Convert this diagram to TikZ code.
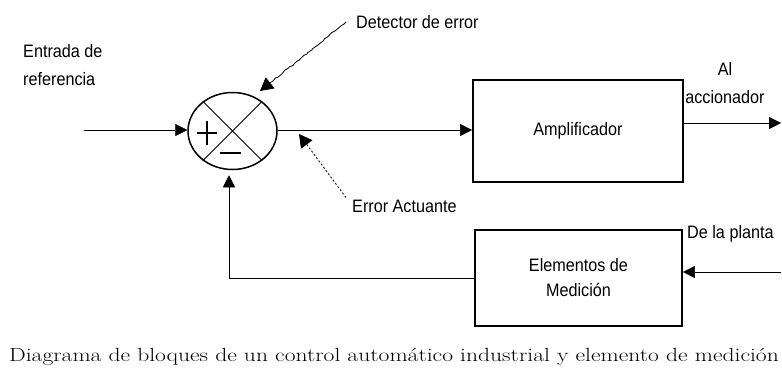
\documentclass[tikz,border=0pt]{standalone}
\usepackage{fontspec}
\setsansfont{Liberation Sans}[FakeStretch=0.9]
\newfontfamily\capfont{Latin Modern Roman}[FakeStretch=1.24]
\usetikzlibrary{positioning, arrows.meta, shapes.geometric, decorations.pathmorphing}
\tikzset{
	line width = 1.5pt,
	>={Triangle[length=12pt,width=12pt]},
	font = \sffamily\fontsize{18}{28}\selectfont,
	block/.style={
		draw,
		line width=1.7pt,
		inner sep=0pt,
		align=center
	},
	summer/.style={
		draw,
		ellipse,
		line width=1.5pt,
		minimum width=89pt,
		minimum height=77pt,
		inner sep=0pt
	},
	sign/.style={
		line width=1.6pt
	},
	signal/.style={
		->
	},
	pointer/.style={
		->,
		line width=.8pt,
		>={Triangle[length=13pt,width=14pt]}
	},
	wobble/.style={
		decorate,
		decoration={random steps, segment length=3pt, amplitude=.8pt, post length=14pt}
	},
	caption/.style={
		font=\capfont\fontsize{19}{24}\selectfont
	}
}

\begin{document}
\begin{tikzpicture}[x=1pt, y=-1pt]
\useasboundingbox (0,0) rectangle (782,375);

\node[summer] (sum) at (232.5,131) {};
\node[block, minimum width=210pt, minimum height=102pt] (amp) at (578,131) {Amplificador};
\node[block, minimum width=207pt, minimum height=96pt] (meas) at (578.5,278) {Elementos de\\[-3pt]Medición};

% signs inside the summing point
\draw[line width=1pt] (sum.135) -- (sum.-45);
\draw[line width=1pt] (sum.45) -- (sum.-135);
\draw[sign] ([shift={(-35.5,2)}]sum.center) -- ++(20,0) ([shift={(-25.5,-10)}]sum.center) -- ++(0,24);
\draw[sign] ([shift={(-12.5,22)}]sum.center) -- ++(21,0);

% ---
% Labels
% ---
\node[anchor=north west, align=left, inner sep=0pt] (ref) at (23,44) {Entrada de\\referencia};
\node[anchor=west, inner sep=0pt] (det) at (356,22) {Detector de error};
\node[anchor=west, inner sep=0pt] (err) at (352,206) {Error Actuante};
\node[align=center, inner sep=0pt] (act) at (725,83) {Al\\accionador};
\node[anchor=west, inner sep=0pt] (plant-label) at (687,234) {De la planta};
\node[caption, inner sep=0pt] (cap) at (394,357) {Diagrama de bloques de un control automático industrial y elemento de medición};

% ---
% Signals
% ---
\coordinate (in) at (84,130);
\coordinate (out) at (781,123);
\coordinate (plant) at (781,272);
\draw[signal] (in) -- (in -| sum.west);
\draw[signal] (sum.east |- in) -- (in -| amp.west);
\draw[signal] (amp.east |- out) -- (out);
\draw[signal] (plant) -- (meas.east |- plant);
\draw[signal, shorten >=5pt] (meas.west) -| ([xshift=-3.5pt]sum.south);

% pointers
\coordinate (det-tip) at (260,91);
\coordinate (err-tip) at (299,134);
\draw[pointer, wobble] ([xshift=-10pt]det.west) -- (det-tip);
\draw[pointer, dash pattern=on 2pt off 2pt] ([xshift=-6pt,yshift=2pt]err.north west) -- (err-tip);
\end{tikzpicture}
\end{document}
